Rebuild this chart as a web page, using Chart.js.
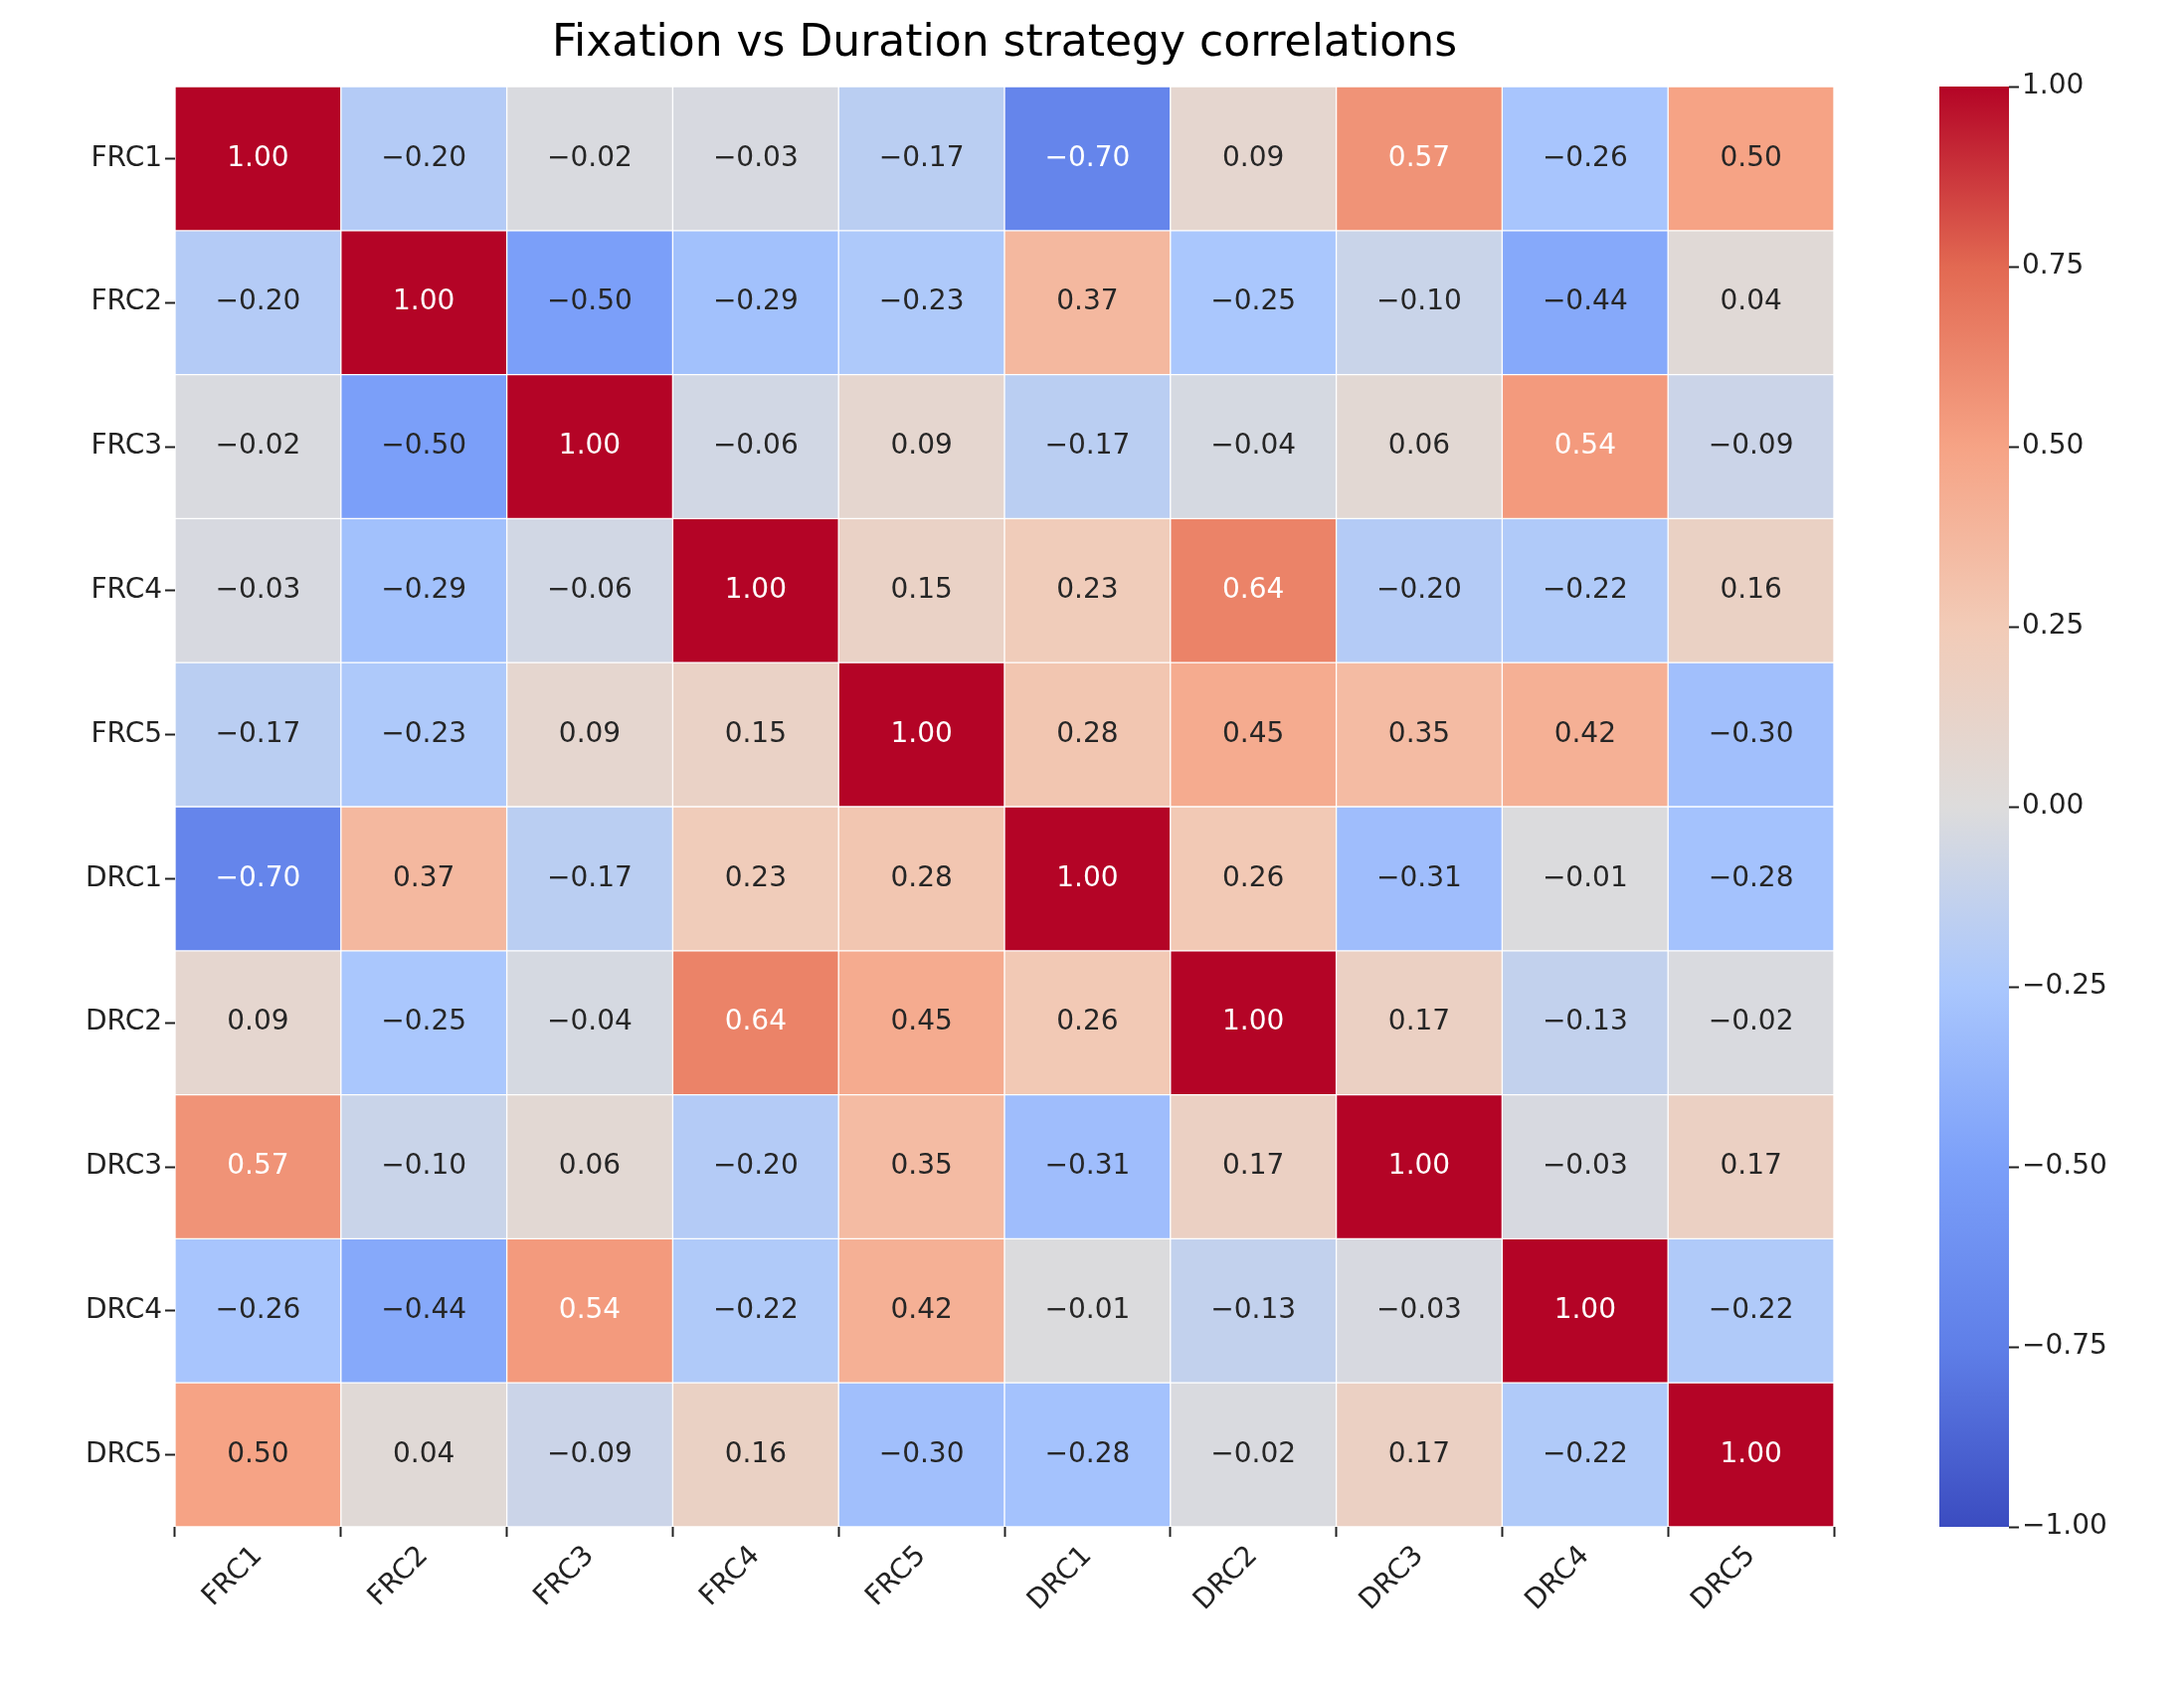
<!DOCTYPE html>
<html><head><meta charset="utf-8">
<script src="https://cdn.jsdelivr.net/npm/chart.js@4.4.0/dist/chart.umd.min.js"></script>
<style>
body{margin:0;background:#fff;width:2196px;height:1697px;overflow:hidden;font-family:"DejaVu Sans"}
#main{position:absolute;left:0;top:0}
#bar{position:absolute;left:1900px;top:0}
</style></head><body>
<canvas id="main" width="1900" height="1697"></canvas>
<canvas id="bar" width="296" height="1697"></canvas>
<script>
const labels = ["FRC1","FRC2","FRC3","FRC4","FRC5","DRC1","DRC2","DRC3","DRC4","DRC5"];
const FRC1 = [1.00,-0.20,-0.02,-0.03,-0.17,-0.70,0.09,0.57,-0.26,0.50];
const FRC2 = [-0.20,1.00,-0.50,-0.29,-0.23,0.37,-0.25,-0.10,-0.44,0.04];
const FRC3 = [-0.02,-0.50,1.00,-0.06,0.09,-0.17,-0.04,0.06,0.54,-0.09];
const FRC4 = [-0.03,-0.29,-0.06,1.00,0.15,0.23,0.64,-0.20,-0.22,0.16];
const FRC5 = [-0.17,-0.23,0.09,0.15,1.00,0.28,0.45,0.35,0.42,-0.30];
const DRC1 = [-0.70,0.37,-0.17,0.23,0.28,1.00,0.26,-0.31,-0.01,-0.28];
const DRC2 = [0.09,-0.25,-0.04,0.64,0.45,0.26,1.00,0.17,-0.13,-0.02];
const DRC3 = [0.57,-0.10,0.06,-0.20,0.35,-0.31,0.17,1.00,-0.03,0.17];
const DRC4 = [-0.26,-0.44,0.54,-0.22,0.42,-0.01,-0.13,-0.03,1.00,-0.22];
const DRC5 = [0.50,0.04,-0.09,0.16,-0.30,-0.28,-0.02,0.17,-0.22,1.00];
const rows = [FRC1,FRC2,FRC3,FRC4,FRC5,DRC1,DRC2,DRC3,DRC4,DRC5];
const cbTicks = [-1,-0.75,-0.5,-0.25,0,0.25,0.5,0.75,1];

// coolwarm anchors
const cw = [[59,76,192],[95,127,232],[123,159,249],[170,199,253],[221,220,220],[242,203,183],[246,163,133],[226,105,82],[180,4,38]];
function color(v){
  const t = Math.max(0,Math.min(1,(v+1)/2))*(cw.length-1);
  const i = Math.min(cw.length-2,Math.floor(t)), f=t-i;
  const c = cw[i].map((a,k)=>Math.round(a+(cw[i+1][k]-a)*f));
  return `rgb(${c[0]},${c[1]},${c[2]})`;
}
const font = {family:"DejaVu Sans", size:28};

const datasets = rows.map((row,r)=>({
  data: row.map(()=>[r,r+1]),
  vals: row,
  backgroundColor: row.map(color),
  borderColor:"#fff", borderWidth:1, borderSkipped:false,
  grouped:false, barPercentage:1, categoryPercentage:1
}));

const cellText = {
  id:"cellText",
  afterDatasetsDraw(chart){
    const ctx=chart.ctx;
    ctx.save();
    ctx.font="28px 'DejaVu Sans'";ctx.textAlign="center";ctx.textBaseline="middle";
    chart.data.datasets.forEach((ds,r)=>{
      chart.getDatasetMeta(r).data.forEach((bar,c)=>{
        const v=ds.vals[c];
        ctx.fillStyle=Math.abs(v)>0.52?"#fff":"#262626";
        const y=(bar.y+bar.base)/2;
        ctx.fillText(v.toFixed(2).replace("-","\u2212"),bar.x,y);
      });
    });
    ctx.fillStyle="#000";ctx.font="44px 'DejaVu Sans'";
    ctx.fillText("Fixation vs Duration strategy correlations",(chart.chartArea.left+chart.chartArea.right)/2,45);
    ctx.restore();
  }
};

new Chart(document.getElementById("main"),{
  type:"bar",
  data:{labels, datasets},
  options:{
    responsive:false, animation:false,
    layout:{padding:{top:87,left:0,right:56,bottom:0}},
    plugins:{legend:{display:false},tooltip:{enabled:false}},
    scales:{
      x:{grid:{display:true,drawOnChartArea:false,tickLength:10,color:"#222",tickWidth:2},border:{display:false},
         ticks:{color:"#222",font,maxRotation:45,minRotation:45},
         afterFit(s){s.height=162;}},
      y:{type:"linear",min:0,max:10,reverse:true,
         afterBuildTicks(s){s.ticks=labels.map((l,i)=>({value:i+0.5}));},
         ticks:{color:"#222",font,callback:(v)=>labels[Math.floor(v)]},
         grid:{display:true,drawOnChartArea:false,tickLength:10,color:"#222",tickWidth:2},border:{display:false},
         afterFit(s){s.width=176;}}
    }
  },
  plugins:[cellText]
});

new Chart(document.getElementById("bar"),{
  type:"bar",
  data:{labels:["cb"],datasets:[{data:[[-1,1]],borderSkipped:false,barPercentage:1,categoryPercentage:1,
    backgroundColor(ctx){
      const a=ctx.chart.chartArea; if(!a) return "#ccc";
      const g=ctx.chart.ctx.createLinearGradient(0,a.bottom,0,a.top);
      cw.forEach((c,i)=>g.addColorStop(i/(cw.length-1),`rgb(${c})`));
      return g;
    }}]},
  options:{
    responsive:false, animation:false,
    layout:{padding:{top:87,bottom:162,left:50,right:0}},
    plugins:{legend:{display:false},tooltip:{enabled:false}},
    scales:{
      x:{display:false},
      y:{position:"right",min:-1,max:1,
         afterBuildTicks(s){s.ticks=cbTicks.map(v=>({value:v}));},
         ticks:{color:"#222",font,callback:(v)=>v.toFixed(2).replace("-","\u2212")},
         grid:{display:true,drawOnChartArea:false,tickLength:10,color:"#222",tickWidth:2},border:{display:false},
         afterFit(s){s.width=176;}}
    }
  }
});
</script>
</body></html>
